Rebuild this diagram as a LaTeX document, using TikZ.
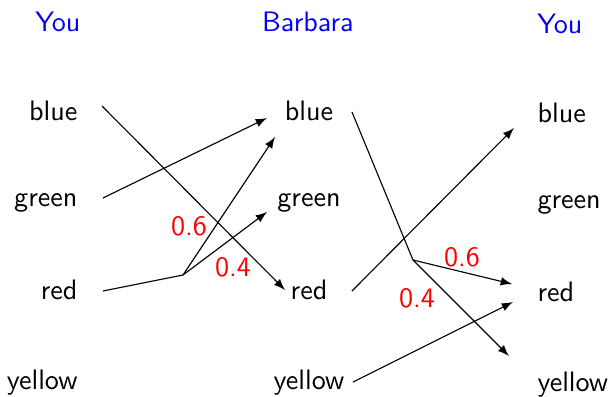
\documentclass[tikz,border=0pt]{standalone}
\usetikzlibrary{arrows.meta}
\tikzset{
  >=latex,  % default LaTeX arrow tips
  % labels
  player/.style={font=\sffamily,text=blue,inner sep=0pt},
  colour/.style={font=\sffamily,inner sep=0pt},
  prob/.style={font=\sffamily,text=red,inner sep=0pt},
  % connections
  link/.style={thin,black},
  link arrow/.style={->,thin,black}
}

\begin{document}
\begin{tikzpicture}[x=0.0125cm,y=-0.0125cm]
    \useasboundingbox (0,0) rectangle (611,396);
    % headers
    \node[player,anchor=base] (you1) at (58,31) {You};
    \node[player,anchor=base] (barb) at (308,31) {Barbara};
    \node[player,anchor=base] (you2) at (560,33) {You};
    % left column
    \node[colour,anchor=base east] (lb) at (78,120) {blue};
    \node[colour,anchor=base east] (lg) at (78,206) {green};
    \node[colour,anchor=base east] (lr) at (78,299) {red};
    \node[colour,anchor=base east] (ly) at (78,389) {yellow};
    % middle column
    \node[colour,anchor=base] (mb) at (309,120) {blue};
    \node[colour,anchor=base] (mg) at (309,206) {green};
    \node[colour,anchor=base] (mr) at (309,299) {red};
    \node[colour,anchor=base] (my) at (309,389) {yellow};
    % right column
    \node[colour,anchor=base west] (rb) at (537,122) {blue};
    \node[colour,anchor=base west] (rg) at (537,208) {green};
    \node[colour,anchor=base west] (rr) at (537,301) {red};
    \node[colour,anchor=base west] (ry) at (537,391) {yellow};
    % ends of the connections
    \coordinate (lb-o) at (102,106);
    \coordinate (lg-o) at (103,198);
    \coordinate (lr-o) at (103,291);
    \coordinate (lsplit) at (183,275);
    \coordinate (mb-i) at (275,137);
    \coordinate (mb-j) at (267,118);
    \coordinate (mg-i) at (267,212);
    \coordinate (mr-i) at (285,290);
    \coordinate (mb-o) at (352,112);
    \coordinate (mr-o) at (352,291);
    \coordinate (my-o) at (353,382);
    \coordinate (msplit) at (413,260);
    \coordinate (rb-i) at (514,128);
    \coordinate (rr-i) at (512,284);
    \coordinate (rr-j) at (513,302);
    \coordinate (ry-i) at (509,356);
    % You -> Barbara
    \draw[link arrow] (lb-o) -- (mr-i);
    \draw[link arrow] (lg-o) -- (mb-j);
    \draw[link] (lr-o) -- (lsplit);
    \draw[link arrow] (lsplit) -- (mb-i);
    \draw[link arrow] (lsplit) -- (mg-i);
    \node[prob] (p1) at (189,226) {0.6};
    \node[prob] (p2) at (233,267) {0.4};
    % Barbara -> You
    \draw[link] (mb-o) -- (msplit);
    \draw[link arrow] (msplit) -- (rr-i);
    \draw[link arrow] (msplit) -- (ry-i);
    \draw[link arrow] (mr-o) -- (rb-i);
    \draw[link arrow] (my-o) -- (rr-j);
    \node[prob] (p3) at (462,257) {0.6};
    \node[prob] (p4) at (417,298) {0.4};
  \end{tikzpicture}
\end{document}
